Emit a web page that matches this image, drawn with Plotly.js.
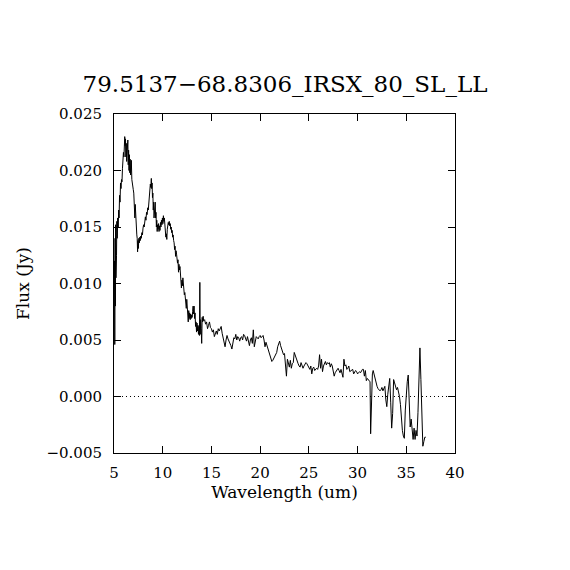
<!DOCTYPE html>
<html>
<head>
<meta charset="utf-8">
<script src="https://cdn.plot.ly/plotly-3.0.1.min.js"></script>
<style>html,body{margin:0;padding:0;background:#fff;}#chart{width:570px;height:570px;}</style>
</head>
<body>
<div id="chart"></div>
<script>
// Title and axis labels
const chartTitle = "79.5137\u221268.8306_IRSX_80_SL_LL";
const xLabel = "Wavelength (um)";
const yLabel = "Flux (Jy)";
const xTickVals = [5, 10, 15, 20, 25, 30, 35, 40];
const yTickVals = [-0.005, 0.000, 0.005, 0.010, 0.015, 0.020, 0.025];

// Short-low (SL) part of the spectrum (um, Jy)
const slWavelength = [
  5.05,5.08,5.11,5.14,5.17,5.20,5.23,5.26,5.29,5.33,
  5.38,5.43,5.48,5.52,5.57,5.62,5.67,5.72,5.77,5.82,
  5.87,5.92,5.97,6.02,6.06,6.10,6.14,6.18,6.22,6.26,
  6.30,6.34,6.38,6.42,6.46,6.50,6.54,6.58,6.62,6.66,
  6.70,6.74,6.78,6.83,6.88,6.93,6.98,7.03,7.07,7.10,
  7.14,7.18,7.22,7.26,7.30,7.34,7.38,7.42,7.46,7.50,
  7.55,7.60,7.65,7.70,7.75,7.80,7.86,7.92,7.98,8.04,
  8.10,8.16,8.22,8.28,8.34,8.40,8.46,8.52,8.58,8.63,
  8.68,8.73,8.78,8.83,8.87,8.91,8.95,8.99,9.03,9.07,
  9.11,9.15,9.19,9.23,9.27,9.31,9.35,9.39,9.43,9.48,
  9.52,9.57,9.62,9.67,9.72,9.77,9.82,9.87,9.92,9.97,
  10.02,10.07,10.12,10.17,10.22,10.27,10.32,10.37,10.42,10.47,
  10.52,10.57,10.62,10.67,10.72,10.77,10.82,10.87,10.92,10.97,
  11.02,11.07,11.12,11.17,11.22,11.27,11.32,11.37,11.42,11.47,
  11.52,11.57,11.62,11.67,11.72,11.77,11.82,11.87,11.92,11.97,
  12.02,12.07,12.12,12.17,12.22,12.27,12.32,12.37,12.42,12.47,
  12.52,12.57,12.62,12.67,12.72,12.77,12.82,12.87,12.92,12.97,
  13.02,13.07,13.12,13.17,13.22,13.27,13.32,13.37,13.42,13.47,
  13.52,13.57,13.62,13.67,13.72,13.77,13.81,13.85,13.90,13.95,
  14.00,14.05,14.10,14.15,14.20
];
const slFlux = [
  0.0120,0.0046,0.0140,0.0080,0.0152,0.0105,0.0150,0.0125,0.0155,0.0140,
  0.0158,0.0150,0.0165,0.0158,0.0178,0.0172,0.0189,0.0184,0.0192,0.0190,
  0.0202,0.0208,0.0216,0.0212,0.0225,0.0230,0.0222,0.0228,0.0212,0.0224,
  0.0208,0.0220,0.0214,0.0227,0.0205,0.0218,0.0200,0.0214,0.0198,0.0210,
  0.0196,0.0206,0.0209,0.0192,0.0190,0.0186,0.0183,0.0180,0.0165,0.0178,
  0.0158,0.0170,0.0160,0.0165,0.0150,0.0143,0.0140,0.0128,0.0138,0.0131,
  0.0140,0.0136,0.0141,0.0138,0.0142,0.0140,0.0145,0.0143,0.0149,0.0152,
  0.0150,0.0157,0.0159,0.0156,0.0163,0.0161,0.0167,0.0165,0.0172,0.0180,
  0.0177,0.0188,0.0185,0.0193,0.0184,0.0189,0.0176,0.0180,0.0165,0.0172,
  0.0158,0.0170,0.0163,0.0172,0.0158,0.0163,0.0150,0.0156,0.0146,0.0152,
  0.0148,0.0153,0.0146,0.0151,0.0147,0.0154,0.0150,0.0156,0.0152,0.0158,
  0.0153,0.0160,0.0155,0.0158,0.0150,0.0146,0.0141,0.0144,0.0139,0.0148,
  0.0150,0.0154,0.0152,0.0155,0.0151,0.0153,0.0148,0.0150,0.0145,0.0147,
  0.0141,0.0143,0.0138,0.0136,0.0130,0.0133,0.0124,0.0129,0.0126,0.0122,
  0.0118,0.0121,0.0110,0.0117,0.0112,0.0115,0.0108,0.0105,0.0096,0.0103,
  0.0098,0.0105,0.0095,0.0097,0.0090,0.0092,0.0087,0.0085,0.0078,0.0086,
  0.0073,0.0078,0.0066,0.0076,0.0069,0.0074,0.0068,0.0073,0.0069,0.0072,
  0.0070,0.0075,0.0080,0.0073,0.0080,0.0069,0.0074,0.0062,0.0066,0.0057,
  0.0065,0.0058,0.0063,0.0055,0.0062,0.0054,0.0101,0.0055,0.0068,0.0060,
  0.0047,0.0070,0.0066,0.0071,0.0067
];

// Long-low (LL) part of the spectrum (um, Jy)
const llWavelength = [
  14.3,14.4,14.5,14.6,14.7,14.8,14.9,15.0,15.1,15.2,15.3,15.4,15.5,15.6,15.7,15.8,15.9,16.0,16.1,16.2,
  16.3,16.4,16.5,16.6,16.7,16.8,16.9,17.0,17.1,17.2,17.3,17.4,17.5,17.6,17.7,17.8,17.9,18.0,18.1,18.2,
  18.3,18.4,18.5,18.6,18.7,18.8,18.9,19.0,19.1,19.2,19.3,19.4,19.5,19.6,19.7,19.8,19.9,20.0,20.1,20.2,
  20.3,20.4,20.5,20.6,20.7,20.8,20.9,21.0,21.1,21.2,21.3,21.4,21.5,21.6,21.7,21.8,21.9,22.0,22.1,22.2,
  22.3,22.4,22.5,22.6,22.7,22.8,22.9,23.0,23.1,23.2,23.3,23.4,23.5,23.6,23.7,23.8,23.9,24.0,24.1,24.2,
  24.3,24.4,24.5,24.6,24.7,24.8,24.9,25.0,25.1,25.2,25.3,25.4,25.5,25.6,25.7,25.8,25.9,26.0,26.1,26.2,
  26.3,26.4,26.5,26.6,26.7,26.8,26.9,27.0,27.1,27.2,27.3,27.4,27.5,27.6,27.7,27.8,27.9,28.0,28.1,28.2,
  28.3,28.4,28.5,28.6,28.7,28.8,28.9,29.0,29.1,29.2,29.3,29.4,29.5,29.6,29.7,29.8,29.9,30.0,30.1,30.2,
  30.3,30.4,30.5,30.6,30.7,30.8,30.9,31.0,31.1,31.2,31.28,31.34,31.42,31.52,31.6,31.7,31.8,31.9,32.0,32.1,
  32.2,32.3,32.4,32.5,32.6,32.7,32.8,32.9,33.0,33.1,33.2,33.3,33.4,33.5,33.6,33.7,33.8,33.9,34.0,34.1,
  34.2,34.3,34.4,34.5,34.6,34.7,34.8,34.9,35.0,35.1,35.2,35.3,35.4,35.5,35.6,35.7,35.8,35.9,36.0,36.1,
  36.2,36.3,36.4,36.5,36.6,36.7,36.8,36.9,37.0
];
const llFlux = [
  0.0068,0.0064,0.0066,0.0060,0.0063,0.0066,0.0061,0.0060,0.0057,0.0059,0.0053,0.0056,0.0058,0.0055,0.0060,0.0058,0.0061,0.0062,0.0056,0.0051,
  0.0047,0.0044,0.0050,0.0054,0.0051,0.0049,0.0048,0.0045,0.0042,0.0050,0.0052,0.0051,0.0055,0.0050,0.0053,0.0052,0.0049,0.0052,0.0053,0.0050,
  0.0055,0.0054,0.0051,0.0049,0.0053,0.0050,0.0045,0.0050,0.0052,0.0047,0.0059,0.0044,0.0050,0.0053,0.0052,0.0051,0.0053,0.0054,0.0052,0.0053,
  0.0054,0.0050,0.0044,0.0048,0.0045,0.0042,0.0040,0.0037,0.0033,0.0031,0.0032,0.0034,0.0035,0.0037,0.0039,0.0044,0.0046,0.0049,0.0045,0.0042,
  0.0039,0.0037,0.0038,0.0030,0.0018,0.0033,0.0028,0.0026,0.0032,0.0025,0.0029,0.0030,0.0039,0.0036,0.0033,0.0031,0.0029,0.0027,0.0026,0.0030,
  0.0027,0.0025,0.0027,0.0028,0.0030,0.0029,0.0027,0.0026,0.0024,0.0027,0.0020,0.0025,0.0026,0.0023,0.0024,0.0025,0.0024,0.0027,0.0037,0.0025,
  0.0033,0.0022,0.0027,0.0029,0.0031,0.0028,0.0030,0.0029,0.0030,0.0026,0.0029,0.0027,0.0022,0.0018,0.0021,0.0022,0.0024,0.0025,0.0023,0.0021,
  0.0024,0.0021,0.0017,0.0033,0.0027,0.0028,0.0024,0.0025,0.0027,0.0022,0.0023,0.0024,0.0024,0.0020,0.0021,0.0023,0.0022,0.0020,0.0021,0.0022,
  0.0021,0.0023,0.0024,0.0024,0.0018,0.0023,0.0014,0.0016,0.0015,0.0014,0.0013,-0.0033,0.0005,0.0020,0.0023,0.0019,0.0016,0.0012,0.0009,0.0007,
  0.0006,0.0005,0.0006,0.0008,0.0005,0.0007,0.0009,-0.0003,-0.0009,0.0002,0.0011,0.0016,-0.0005,-0.0028,-0.0015,0.0015,0.0012,0.0009,0.0006,0.0008,
  0.0005,0.0000,-0.0007,-0.0022,-0.0030,-0.0035,-0.0037,-0.0012,0.0005,0.0013,0.0019,-0.0005,-0.0027,-0.0020,-0.0029,-0.0038,-0.0028,-0.0038,-0.0030,-0.0035,
  -0.0014,0.0020,0.0043,0.0015,-0.0022,-0.0044,-0.0040,-0.0036,-0.0036
];

const wavelength = slWavelength.concat(llWavelength);
const flux = slFlux.concat(llFlux);

const fontFam = "'DejaVu Serif', serif";

const traces = [{
  type: 'scatter',
  mode: 'lines',
  x: wavelength,
  y: flux,
  line: {color: '#000000', width: 1},
  hoverinfo: 'x+y',
  showlegend: false
}];

const layout = {
  width: 570,
  height: 570,
  margin: {l: 114, r: 115, t: 114, b: 117, pad: 0},
  paper_bgcolor: '#ffffff',
  plot_bgcolor: '#ffffff',
  font: {family: fontFam, color: '#000000', size: 15},
  title: {
    text: chartTitle,
    font: {family: fontFam, size: 23, color: '#000000'},
    x: 0.5, xref: 'container', xanchor: 'center',
    y: 1 - 84/570, yref: 'container', yanchor: 'middle'
  },
  xaxis: {
    range: [5, 40],
    tickvals: xTickVals,
    ticktext: xTickVals.map(String),
    ticks: 'inside', ticklen: 7, tickwidth: 1, tickcolor: '#000',
    showline: true, linecolor: '#000', linewidth: 1, mirror: 'ticks',
    showgrid: false, zeroline: false,
    tickfont: {family: fontFam, size: 15},
    ticklabelstandoff: 6,
    title: {text: xLabel, font: {family: fontFam, size: 17}, standoff: 4}
  },
  yaxis: {
    range: [-0.005, 0.025],
    tickvals: yTickVals,
    ticktext: yTickVals.map(v => (v < 0 ? '\u2212' : '') + Math.abs(v).toFixed(3)),
    ticks: 'inside', ticklen: 7, tickwidth: 1, tickcolor: '#000',
    showline: true, linecolor: '#000', linewidth: 1, mirror: 'ticks',
    showgrid: false, zeroline: false,
    tickfont: {family: fontFam, size: 15},
    ticklabelstandoff: 8,
    title: {text: yLabel, font: {family: fontFam, size: 17}, standoff: 12}
  },
  shapes: [{
    type: 'line', xref: 'paper', x0: 0, x1: 1, yref: 'y', y0: 0, y1: 0,
    line: {color: '#000', width: 1, dash: '1px,3px'}, layer: 'below'
  }]
};

Plotly.newPlot('chart', traces, layout, {displayModeBar: false, staticPlot: true});
</script>
</body>
</html>
